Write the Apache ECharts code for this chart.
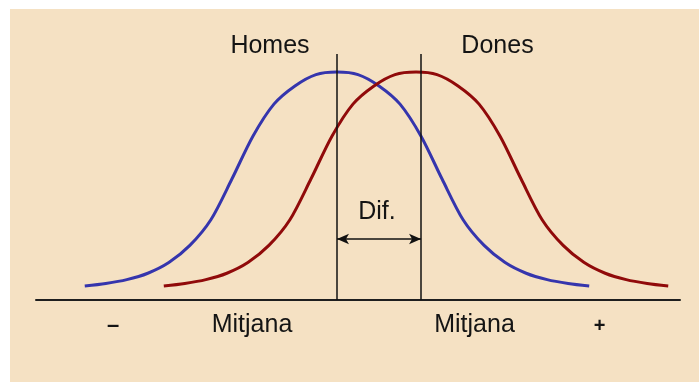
<!DOCTYPE html>
<html>
<head>
<meta charset="utf-8">
<script src="https://cdn.jsdelivr.net/npm/echarts@6/dist/echarts.min.js"></script>
<style>
html,body{margin:0;padding:0;background:#fff;}
#chart{width:699px;height:382px;}
</style>
</head>
<body>
<div id="chart"></div>
<script>
// Curve positions (x in units of the mean difference) and heights (peak = 100)
const homesX = [-3.5, -3.25, -3.0, -2.75, -2.5, -2.25, -2.0, -1.75, -1.5, -1.25, -1.0, -0.75, -0.5, -0.25, 0, 0.25, 0.5, 0.75, 1.0, 1.25, 1.5, 1.75, 2.0, 2.25, 2.5];
const homesY = [0, 1.2, 3, 6, 11, 19, 31, 50, 70, 85, 93.5, 98.8, 100, 98.8, 93.5, 85, 70, 50, 31, 19, 11, 6, 3, 1.2, 0];
const donesX = [-2.56, -2.31, -2.06, -1.81, -1.56, -1.31, -1.06, -0.81, -0.56, -0.31, -0.06, 0.19, 0.44, 0.69, 0.94, 1.19, 1.44, 1.69, 1.94, 2.19, 2.44, 2.69, 2.94, 3.19, 3.44];
const donesY = [0, 1.2, 3, 6, 11, 19, 31, 50, 70, 85, 93.5, 98.8, 100, 98.8, 93.5, 85, 70, 50, 31, 19, 11, 6, 3, 1.2, 0];
const meanHomes = -0.5;
const meanDones = 0.5;
const arrowLevel = 22;
const labelTexts = ['Homes', 'Dones', 'Dif.', '–', 'Mitjana', 'Mitjana', '+'];

const chart = echarts.init(document.getElementById('chart'), null, {renderer: 'canvas'});
const pair = (xs, ys) => xs.map((x, i) => [x, ys[i]]);
const FONT = '"Liberation Sans", Arial, sans-serif';
function txt(t, x, y, size, weight) {
  return {
    type: 'text', x: 0, y: 0, silent: true, z: 5,
    style: {
      text: t, x: x, y: y, fill: '#141414',
      font: (weight || 'normal') + ' ' + size + 'px ' + FONT,
      align: 'center', verticalAlign: 'middle',
      textAlign: 'center', textVerticalAlign: 'middle'
    }
  };
}

chart.setOption({
  animation: false,
  backgroundColor: '#ffffff',
  grid: {left: 36, right: 19, top: 54, bottom: 82, containLabel: false},
  xAxis: {
    type: 'value', min: -4.08, max: 3.58,
    axisLine: {show: true, onZero: false, lineStyle: {color: '#1e1e1e', width: 2}},
    axisTick: {show: false}, axisLabel: {show: false}, splitLine: {show: false}
  },
  yAxis: {
    type: 'value', min: -6.5, max: 108.4, show: false,
    splitLine: {show: false}
  },
  graphic: [
    {type: 'rect', shape: {x: 10, y: 9, width: 689, height: 373}, style: {fill: '#F5E1C3'}, z: -10, silent: true},
    txt(labelTexts[0], 270, 46.5, 25),
    txt(labelTexts[1], 497.5, 46.5, 25),
    txt(labelTexts[2], 377, 212, 25),
    txt(labelTexts[3], 113, 326, 22, 'bold'),
    txt(labelTexts[4], 252, 325, 25),
    txt(labelTexts[5], 474.5, 325, 25),
    txt(labelTexts[6], 599.5, 326, 20, 'bold')
  ],
  series: [
    {
      name: 'Homes', type: 'line', smooth: 0.3, showSymbol: false, silent: true,
      data: pair(homesX, homesY), z: 3,
      lineStyle: {color: '#3535AD', width: 3},
      markLine: {
        silent: true, symbol: 'none', animation: false,
        label: {show: false},
        lineStyle: {color: '#111111', width: 1.5, type: 'solid'},
        emphasis: {disabled: true},
        data: [
          {xAxis: meanHomes},
          {xAxis: meanDones},
          [
            {coord: [meanHomes, arrowLevel], symbol: 'arrow', symbolSize: [8, 12]},
            {coord: [meanDones, arrowLevel], symbol: 'arrow', symbolSize: [8, 12]}
          ]
        ]
      }
    },
    {
      name: 'Dones', type: 'line', smooth: 0.3, showSymbol: false, silent: true,
      data: pair(donesX, donesY), z: 3,
      lineStyle: {color: '#900A0A', width: 3}
    }
  ]
});
</script>
</body>
</html>
